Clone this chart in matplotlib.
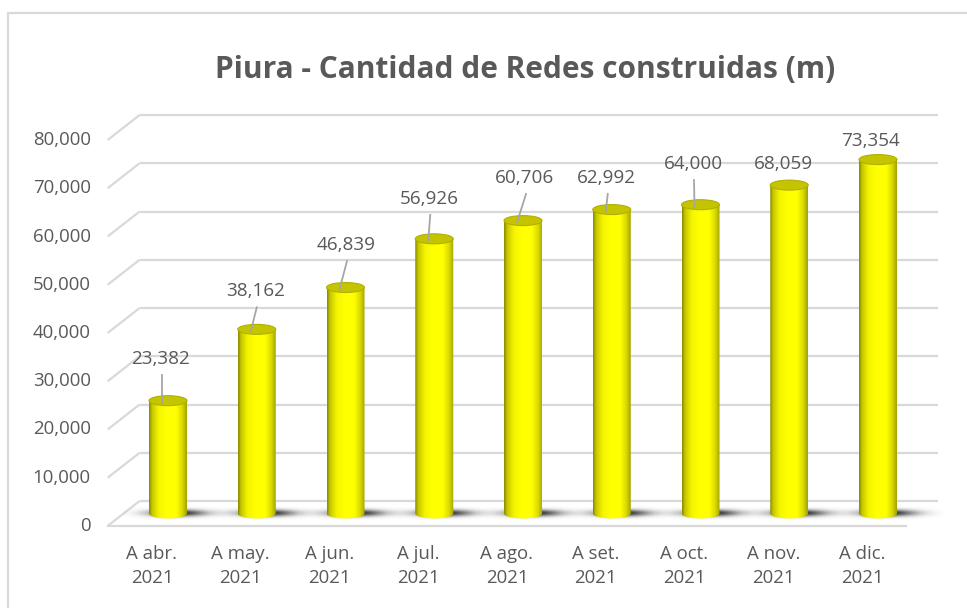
import numpy as np
import matplotlib
matplotlib.use("Agg")
import matplotlib.pyplot as plt
from matplotlib.patches import Ellipse, Polygon, Rectangle
from matplotlib.colors import to_rgb

# ---------------- data ----------------
categories = ["A abr.\n2021", "A may.\n2021", "A jun.\n2021", "A jul.\n2021", "A ago.\n2021",
              "A set.\n2021", "A oct.\n2021", "A nov.\n2021", "A dic.\n2021"]
values = [23382, 38162, 46839, 56926, 60706, 62992, 64000, 68059, 73354]
y_ticks = [0, 10000, 20000, 30000, 40000, 50000, 60000, 70000, 80000]
title = "Piura - Cantidad de Redes construidas (m)"

# ---------------- style / layout ----------------
W, H = 967, 608
PX_PER_CAT = 88.75          # pixels per category
PX_PER_UNIT = 386 / 80000   # pixels per value unit
X0_PX, Y0_PX = 152, 526     # pixel of category 0 / value 0 (front plane)

def dxp(px):  # pixel distance -> category units
    return px / PX_PER_CAT

def dyp(px):  # pixel distance -> value units
    return px / PX_PER_UNIT

DEPTH_X = dxp(32)
DEPTH_Y = dyp(25)
BAR_W = dxp(38)
ELL_H = dyp(10)

text_col = "#595959"
grid_col = "#d9d9d9"
font = "Open Sans"

lab_dx_px = [9, 15, 16.5, 11, 18, 11, 8.5, 10, 9]
lab_dy_px = [42, 38, 42.5, 40, 42.6, 31.6, 40.7, 21, 18.6]
has_leader = [True, True, True, True, True, True, True, False, False]

fig = plt.figure(figsize=(W / 100, H / 100), dpi=100)
ax = fig.add_axes([0, 0, 1, 1])
ax.set_xlim(-X0_PX / PX_PER_CAT, (W - X0_PX) / PX_PER_CAT)
ax.set_ylim(-(H - Y0_PX) / PX_PER_UNIT, Y0_PX / PX_PER_UNIT)
ax.axis("off")

# chart border
fig.patches.append(Rectangle((8 / W, -0.2), 1.2, 1.2 - 13 / H, transform=fig.transFigure,
                             fill=False, edgecolor=grid_col, lw=1.6, zorder=0))

# ---------------- walls / gridlines ----------------
n = len(categories)
left_f, right_f = -0.5, n - 0.5
for v in y_ticks:
    ax.plot([left_f, left_f + DEPTH_X], [v, v + DEPTH_Y], color=grid_col, lw=1.6, zorder=1,
            solid_capstyle="butt")
    ax.plot([left_f + DEPTH_X, right_f + DEPTH_X], [v + DEPTH_Y, v + DEPTH_Y], color=grid_col,
            lw=1.6, zorder=1, solid_capstyle="butt")
ax.plot([left_f, right_f], [0, 0], color=grid_col, lw=1.6, zorder=1)

# tick labels
for v in y_ticks:
    ax.text(left_f - dxp(17), v, f"{v:,}", ha="right", va="center", color=text_col,
            fontsize=13.4, family=font)

# category labels
for i, c in enumerate(categories):
    ax.text(i, -dyp(40), c, ha="center", va="center", color=text_col, fontsize=13.4,
            family=font, linespacing=1.42)

# ---------------- cylinders ----------------
stops = [(0.0, "#8c8c00"), (0.08, "#c8c800"), (0.25, "#f4f400"), (0.45, "#ffff00"),
         (0.72, "#ffff00"), (0.88, "#dada00"), (1.0, "#a4a400")]
N = 64
t = np.linspace(0, 1, N)
grad = np.zeros((1, N, 3))
for k in range(3):
    grad[0, :, k] = np.interp(t, [s[0] for s in stops], [to_rgb(s[1])[k] for s in stops])

# shadow kernel
sx = np.linspace(-1, 1, 160)
sy = np.linspace(-1, 1, 60)
SX, SY = np.meshgrid(sx, sy)
shadow = np.zeros((60, 160, 4))
shadow[..., :3] = 0.22
shadow[..., 3] = np.clip(1.1 * np.exp(-((SX / 0.6) ** 2 + (SY / 0.4) ** 2) * 1.4), 0, 0.92)

base = DEPTH_Y / 2
for i, v in enumerate(values):
    cx = i + DEPTH_X / 2
    x0, x1 = cx - BAR_W / 2, cx + BAR_W / 2
    top = v + base
    # shadow on floor
    scx = cx + dxp(10)
    ax.imshow(shadow, extent=[scx - dxp(55), scx + dxp(55), base - dyp(10), base + dyp(10)],
              aspect="auto", interpolation="bilinear", zorder=2)
    # body with gradient, clipped
    th = np.linspace(np.pi, 2 * np.pi, 40)
    pts = [(x0, top), (x0, base)]
    pts += [(cx + BAR_W / 2 * np.cos(a), base + ELL_H / 2 * np.sin(a)) for a in th]
    pts += [(x1, top)]
    poly = Polygon(pts, closed=True, facecolor="none", edgecolor="none", zorder=3)
    ax.add_patch(poly)
    im = ax.imshow(grad, extent=[x0, x1, base - ELL_H, top], aspect="auto",
                   interpolation="bilinear", zorder=3)
    im.set_clip_path(poly)
    # top cap
    ax.add_patch(Ellipse((cx, top), BAR_W, ELL_H, facecolor="#c4c400", edgecolor="#b0b000",
                         lw=0.8, zorder=4))

    # data label
    lx = i + dxp(lab_dx_px[i])
    ly = top + dyp(lab_dy_px[i])
    ax.text(lx, ly, f"{v:,}", ha="center", va="center", color=text_col, fontsize=13.6,
            family=font, zorder=6)
    if has_leader[i]:
        ax.plot([lx + dxp(1), cx - dxp(6)], [ly - dyp(16), top - dyp(2)], color="#a6a6a6",
                lw=1.3, zorder=5)

fig.text(525.5 / W, 1 - 70 / H, title, ha="center", va="center", color=text_col,
         fontsize=21.5, fontweight="bold", family=font)

fig.savefig("out.png", dpi=100, facecolor="white")
